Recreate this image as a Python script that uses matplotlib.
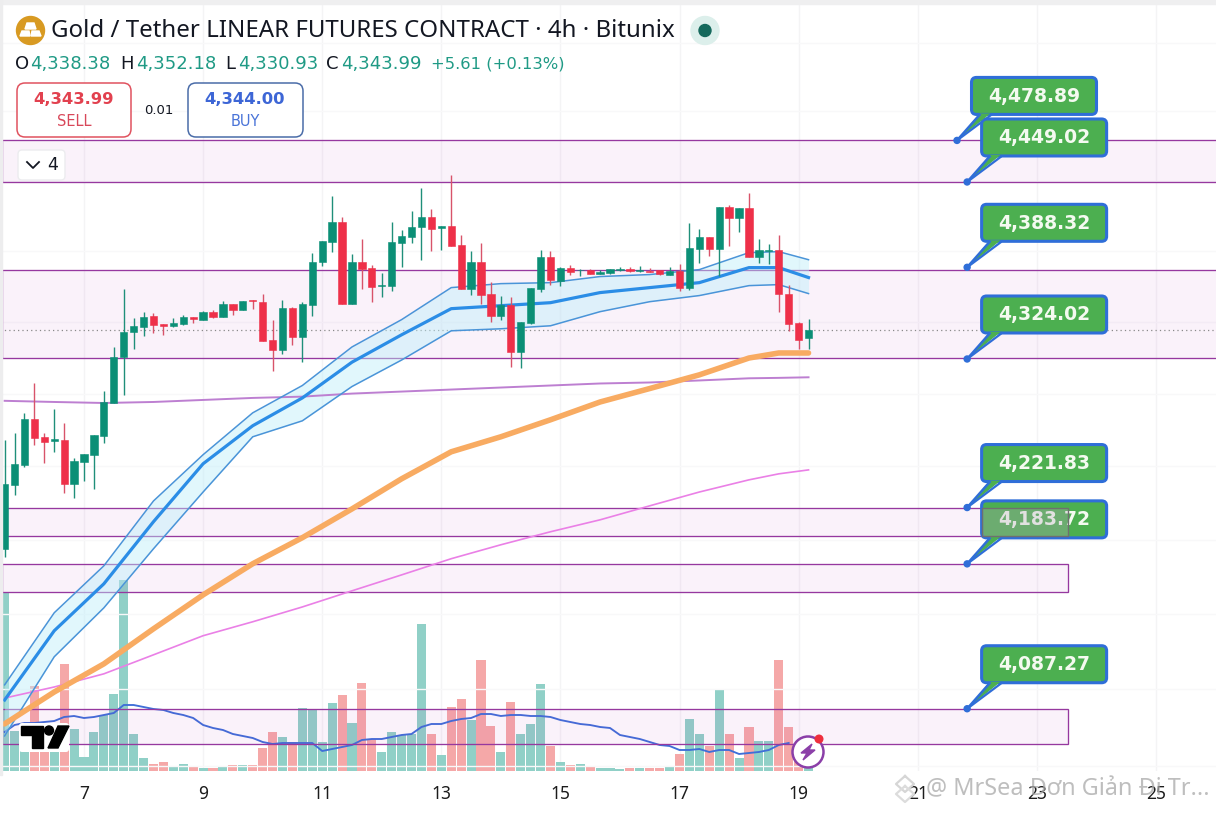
import matplotlib
matplotlib.use("Agg")
import matplotlib.pyplot as plt
from matplotlib.patches import FancyBboxPatch, Circle, Polygon, Rectangle
from matplotlib.ticker import NullLocator, NullFormatter

# ---------- data ----------
first_day = 5 + 4 / 6          # first 4h candle
candle_step = 1 / 6

opens = [4193.8,4237.1,4250.8,4282.6,4270.2,4267.0,4268.1,4237.8,4252.9,4257.7,4270.8,4293.5,4325.4,4343.0,4346.5,4354.3,4348.6,4347.2,4348.6,4353.6,
         4351.5,4357.1,4353.6,4362.7,4358.5,4365.6,4364.1,4337.4,4330.3,4359.9,4339.5,4362.0,4392.3,4406.4,4420.5,4362.7,4392.3,4388.1,4375.4,4375.4,
         4405.7,4410.0,4417.0,4424.1,4416.3,4417.7,4404.3,4373.3,4392.3,4369.8,4354.3,4362.0,4328.9,4349.3,4373.3,4395.9,4379.0,4388.1,4386.2,4386.7,
         4383.9,4384.6,4386.7,4387.4,4386.0,4386.0,4386.7,4383.2,4386.0,4374.0,4401.5,4410.0,4401.5,4431.1,4423.4,4430.4,4395.9,4400.1,4400.8,4369.8,
         4349.3,4338.38]
highs = [4268.1,4272.9,4286.7,4307.0,4272.9,4289.4,4279.8,4255.7,4258.4,4271.6,4302.1,4332.4,4373.3,4352.9,4357.1,4356.4,4348.6,4352.9,4355.0,4353.6,
         4357.8,4358.5,4364.8,4362.7,4364.8,4365.6,4369.8,4351.5,4365.6,4360.6,4364.1,4398.7,4407.1,4438.9,4424.1,4398.0,4408.6,4390.2,4384.6,4420.5,
         4414.9,4428.3,4444.5,4429.7,4417.7,4453.7,4411.4,4400.1,4405.7,4378.2,4368.4,4367.7,4350.0,4374.0,4400.8,4400.1,4388.8,4390.2,4387.4,4387.4,
         4386.7,4387.4,4388.8,4388.8,4389.5,4388.1,4386.7,4388.8,4390.9,4419.8,4415.6,4410.0,4431.1,4432.5,4430.4,4441.0,4408.6,4405.0,4411.4,4376.1,
         4350.0,4352.18]
lows = [4188.3,4230.2,4249.5,4264.6,4252.2,4259.8,4231.6,4228.2,4239.9,4234.4,4266.0,4293.5,4299.3,4331.0,4340.2,4342.3,4340.9,4346.5,4347.9,4349.3,
        4351.5,4352.9,4353.6,4355.0,4358.5,4359.2,4336.6,4315.5,4327.5,4333.8,4321.8,4354.3,4389.5,4399.4,4362.7,4362.7,4373.3,4364.1,4367.7,4371.9,
        4388.8,4405.7,4393.7,4400.1,4400.8,4403.6,4373.3,4369.1,4362.7,4350.0,4351.5,4318.3,4317.6,4348.6,4371.2,4376.1,4375.4,4383.2,4382.5,4383.9,
        4383.9,4383.9,4386.0,4385.3,4385.3,4385.3,4383.2,4383.2,4371.9,4372.6,4391.6,4396.6,4382.5,4403.6,4413.5,4395.9,4391.6,4390.9,4357.1,4343.7,
        4331.0,4330.93]
closes = [4237.8,4251.5,4282.6,4269.5,4266.7,4268.8,4237.8,4253.6,4258.4,4271.6,4294.2,4325.4,4343.0,4347.2,4353.6,4347.9,4347.2,4349.3,4353.6,4352.2,
          4357.1,4353.6,4362.7,4358.5,4364.8,4364.8,4336.6,4330.3,4359.9,4339.5,4362.7,4392.3,4407.1,4420.5,4362.7,4392.3,4387.4,4374.7,4376.1,4406.4,
          4410.7,4417.0,4424.1,4415.6,4417.7,4403.6,4373.3,4392.3,4369.1,4354.3,4362.0,4328.9,4350.0,4374.0,4395.9,4379.7,4388.1,4385.3,4386.7,4383.9,
          4385.3,4387.4,4387.4,4386.0,4386.7,4385.3,4383.9,4386.0,4374.0,4402.2,4410.0,4401.5,4431.1,4423.4,4430.4,4395.9,4400.8,4400.8,4369.8,4348.6,
          4337.4,4343.99]
volumes = [179,40,32,85,30,25,107,42,14,39,56,77,191,37,13,7,9,5,7,5,3,3,5,6,6,6,23,39,34,29,63,62,29,68,76,48,88,32,19,39,
           36,37,147,37,16,64,72,51,111,45,19,69,37,47,87,25,9,6,7,5,3,3,2,3,3,3,3,5,17,52,37,25,81,37,13,44,30,30,111,44,15,3]
volume_ma = [39,46,48,48,49,50,54,55,53,54,56,58,66,66,64,62,61,58,56,53,46,43,41,37,35,33,29,27,28,28,28,28,20,22,24,26,31,32,32,34,
             36,37,44,47,47,50,52,53,57,57,55,56,56,55,55,54,51,49,47,46,44,43,36,34,32,29,26,25,21,21,22,19,21,21,17,18,19,21,26,28]

ma_index = [0,5,10,15,20,25,30,35,40,45,50,55,60,65,70,75,78,81]
channel_mid = [4093.0,4138.9,4170.3,4212.2,4251.7,4277.8,4297.0,4321.8,4340.9,4359.2,4361.3,4363.4,4370.5,4374.0,4377.5,4388.1,4388.1,4381.1]
channel_up = [4103.0,4150.9,4182.4,4226.3,4257.9,4286.7,4305.6,4332.4,4351.5,4374.0,4376.8,4377.5,4381.8,4383.2,4386.7,4398.7,4399.4,4393.7]
channel_low = [4069.4,4121.6,4154.2,4193.9,4232.4,4270.2,4281.2,4304.9,4323.3,4343.7,4345.1,4347.2,4357.1,4364.1,4368.4,4375.4,4376.1,4369.8]
orange_ma = [4077.3,4098.3,4116.9,4140.2,4162.9,4183.8,4201.4,4220.9,4241.4,4259.9,4270.2,4281.9,4294.2,4303.5,4313.0,4324.7,4328.2,4328.2]
purple_ma = [4295.0,4294.2,4293.5,4294.2,4295.6,4297.0,4297.9,4300.0,4301.4,4302.8,4304.2,4305.6,4307.0,4307.7,4309.1,4310.6,4310.9,4311.3]
pink_ma = [4094.3,4101.6,4110.3,4122.9,4135.6,4144.9,4154.8,4165.6,4176.3,4187.2,4196.6,4205.4,4213.5,4223.0,4232.4,4240.7,4244.8,4247.5]

zone_tops = [4478.89, 4386.5, 4221.83, 4183.72, 4087.27]
zone_bottoms = [4449.02, 4325.0, 4202.7, 4164.8, 4064.2]
zone_ends = [None, None, 23.524, 23.524, 23.524]

label_prices = [4478.89, 4449.02, 4388.32, 4324.02, 4221.83, 4183.72, 4087.27]
label_days = [21.66, 21.83, 21.83, 21.83, 21.83, 21.83, 21.83]
last_price = 4343.99
day_ticks = [7, 9, 11, 13, 15, 17, 19, 21, 23, 25]
grid_prices = [4050, 4100, 4150, 4200, 4250, 4300, 4350, 4400, 4450, 4500, 4550]

TITLE = "Gold / Tether LINEAR FUTURES CONTRACT \u00b7 4h \u00b7 Bitunix"
ohlc_labels = [("O", 15, "4,338.38", 30), ("H", 120, "4,352.18", 136), ("L", 225, "4,330.93", 238), ("C", 326, "4,343.99", 341)]
change_text = "+5.61 (+0.13%)"
sell_price, buy_price, spread = "4,343.99", "4,344.00", "0.01"
WATERMARK = "@ MrSea \u0110\u01a1n Gi\u1ea3n \u0110i Tr..."

UP, DOWN = "#0b8f76", "#ee3049"
VOL_UP, VOL_DOWN = "#90d0c7", "#f5a8a8"
W, H, AX_B = 1216, 813, 771

# ---------- figure ----------
fig = plt.figure(figsize=(W / 100, H / 100), dpi=100, facecolor="white")
rect = [0, (H - AX_B) / H, 1, AX_B / H]
ax_vol = fig.add_axes(rect, zorder=1)
ax = fig.add_axes(rect, zorder=2)
ui = fig.add_axes([0, 0, 1, 1], zorder=3)
ui.set_xlim(0, W); ui.set_ylim(H, 0); ui.axis("off"); ui.patch.set_alpha(0)
ax.patch.set_alpha(0)

XLIM = (7 - 84 / 59.55, 7 + (W - 84) / 59.55)
for a in (ax, ax_vol):
    a.set_xlim(*XLIM)
    for s in a.spines.values():
        s.set_visible(False)
ax_vol.set_ylim(0, AX_B)
ax_vol.set_xticks([]); ax_vol.set_yticks([])
ax.set_yscale("log")
ax.set_ylim(4046.5, 4581.3)
ax.yaxis.set_major_locator(NullLocator()); ax.yaxis.set_minor_locator(NullLocator())
ax.yaxis.set_major_formatter(NullFormatter()); ax.yaxis.set_minor_formatter(NullFormatter())
ax.set_xticks(day_ticks)
ax.set_xticklabels([str(d) for d in day_ticks], family="Noto Sans", fontsize=12.5, color="#1c1c1c")
ax.tick_params(axis="x", length=0, pad=10)

for d in day_ticks:
    ax_vol.axvline(d, color="#f4f4f5", lw=1, zorder=0)
for g in grid_prices:
    ax.axhline(g, color="#f8f8f9", lw=1, zorder=0)

days = [first_day + i * candle_step for i in range(len(opens))]
ma_days = [first_day + i * candle_step for i in ma_index]

# volume
vol_cols = [VOL_UP if c >= o else VOL_DOWN for o, c in zip(opens, closes)]
ax_vol.bar(days, volumes, width=0.152, color=vol_cols, zorder=1)
ax_vol.plot(days[:len(volume_ma)], volume_ma, color="#3f6fd8", lw=1.35, zorder=6)

# zones
for top, bot, end in zip(zone_tops, zone_bottoms, zone_ends):
    x0 = XLIM[0] + 0.03
    x1 = end if end else XLIM[1] + 1
    ax.add_patch(Rectangle((x0, bot), x1 - x0, top - bot, facecolor=(0.70, 0.15, 0.72, 0.06), edgecolor="none", zorder=1))
    ax.add_patch(Rectangle((x0, bot), x1 - x0, top - bot, facecolor="none", edgecolor="#96389f", lw=0.95, zorder=1.5))

# moving averages
ax.fill_between(ma_days, channel_low, channel_up, color="#bdeefa", alpha=0.45, lw=0, zorder=2)
ax.plot(ma_days, purple_ma, color="#bd7fd1", lw=1.4, zorder=2.2, solid_joinstyle="round")
ax.plot(ma_days, pink_ma, color="#ea80e6", lw=1.2, zorder=2.2, solid_joinstyle="round")
ax.plot(ma_days, channel_up, color="#4a94d8", lw=1.1, zorder=2.4, solid_joinstyle="round")
ax.plot(ma_days, channel_low, color="#4a94d8", lw=1.1, zorder=2.4, solid_joinstyle="round")
ax.plot(ma_days, channel_mid, color="#2b8de6", lw=2.3, zorder=2.5, solid_joinstyle="round")
ax.plot(ma_days, orange_ma, color="#f8ab62", lw=4.0, zorder=2.6, solid_capstyle="round", solid_joinstyle="round")

# last price line
ax.axhline(last_price, color="#8a8a8a", lw=0.9, ls=(0, (1, 2.5)), zorder=1.7)

# candles
for d, o, h, l, c in zip(days, opens, highs, lows, closes):
    col = UP if c >= o else DOWN
    wick = "#d8536a" if c < o else "#1f8f7a"
    ax.plot([d, d], [l, h], color=wick, lw=1.0, zorder=3, solid_capstyle="butt")
    ax.bar(d, abs(c - o), bottom=min(o, c), width=0.122, color=col, edgecolor=col, lw=0.4, zorder=3.2)

# ---------- callouts ----------
fig.canvas.draw()
def to_ui(day, price):
    return ui.transData.inverted().transform(ax.transData.transform((day, price)))

BLUE = "#2f6ed8"
GREEN = "#4caf50"
for day, price in zip(label_days, label_prices):
    px, py = to_ui(day, price)
    left = px + 14.5
    top = py - 63
    w, h = 125, 37
    ui.add_patch(FancyBboxPatch((left, top), w, h, boxstyle="round,pad=0,rounding_size=5",
                                facecolor=GREEN, edgecolor=BLUE, lw=2.2, zorder=5))
    bx = top + h
    ui.add_patch(Polygon([(px, py), (left + 8, bx - 1), (left + 19, bx - 1)], closed=True, facecolor=GREEN, edgecolor="none", zorder=5.1))
    ui.plot([px, left + 8], [py, bx + 0.5], color=BLUE, lw=1.8, zorder=5.2)
    ui.plot([px, left + 19], [py, bx + 1], color=BLUE, lw=1.6, zorder=5.2)
    ui.add_patch(Circle((px, py), 3, color=BLUE, zorder=5.3))
    ui.text(left + w / 2, top + h / 2 + 0.5, f"{price:,.2f}", color="#f4faf0", fontsize=13.5, fontweight="bold",
            ha="center", va="center", zorder=5.4)
# zone border crossing the 4,183.72 callout
zx0, zy0 = to_ui(21.7, zone_tops[2]); zx1, zy1 = to_ui(zone_ends[2], zone_bottoms[2])
ui.add_patch(Rectangle((982, zy0), zx1 - 982, zy1 - zy0, facecolor=(0.72, 0.66, 0.74, 0.3),
                       edgecolor="#6f6f6f", lw=1.0, zorder=6))

# ---------- header ----------
ui.add_patch(Rectangle((0, 0), W, 4, color="#efeff0", zorder=4))
ui.add_patch(Rectangle((0, 0), 2, AX_B + 4, color="#ededee", zorder=4))
ui.add_patch(Circle((30.5, 30.5), 14, color="#d89a22", zorder=5))
ui.add_patch(Polygon([(27, 23), (34, 23), (36, 29), (25, 29)], color="white", zorder=6))
ui.add_patch(Polygon([(22, 31), (29, 31), (30, 36), (20, 36)], color="white", zorder=6))
ui.add_patch(Polygon([(32, 31), (39, 31), (41, 36), (31, 36)], color="white", zorder=6))
ui.text(51, 31, TITLE, family="Noto Sans", fontsize=17.3, color="#131722", va="center", ha="left", zorder=6)
ui.add_patch(Circle((705, 30.5), 14, color="#dcefeb", zorder=5))
ui.add_patch(Circle((705, 30.5), 6, color="#14695c", zorder=6))

for letter, lx, num, nx in ohlc_labels:
    ui.text(lx, 64, letter, fontsize=13, color="#131722", va="center", ha="left", zorder=6)
    ui.text(nx, 64, num, fontsize=13, color="#1f9a85", va="center", ha="left", zorder=6)
ui.text(431, 64, change_text, fontsize=11.75, color="#1f9a85", va="center", ha="left", zorder=6)

ui.add_patch(FancyBboxPatch((17, 83), 114, 54, boxstyle="round,pad=0,rounding_size=8", facecolor="white", edgecolor="#e0525f", lw=1.1, zorder=5))
ui.text(74, 99, sell_price, fontsize=11.8, fontweight="bold", color="#e2414f", ha="center", va="center", zorder=6)
ui.text(74, 121, "SELL", fontsize=10.5, color="#d8485a", ha="center", va="center", zorder=6)
ui.text(159, 110, spread, fontsize=9.5, color="#131722", ha="center", va="center", zorder=6)
ui.add_patch(FancyBboxPatch((188, 83), 115, 54, boxstyle="round,pad=0,rounding_size=8", facecolor="white", edgecolor="#4a6ca8", lw=1.1, zorder=5))
ui.text(245, 99, buy_price, fontsize=11.8, fontweight="bold", color="#3d66d6", ha="center", va="center", zorder=6)
ui.text(245, 121, "BUY", fontsize=10.5, color="#4a74d8", ha="center", va="center", zorder=6)

ui.add_patch(FancyBboxPatch((18, 150), 47, 30, boxstyle="round,pad=0,rounding_size=4", facecolor="white", edgecolor="#ececef", lw=1, zorder=5))
ui.plot([27, 33, 39], [162, 168, 162], color="#131722", lw=1.3, zorder=6)
ui.text(53, 165, "4", fontsize=12.5, color="#131722", ha="center", va="center", zorder=6)

# ---------- overlays ----------
ui.add_patch(FancyBboxPatch((19, 723), 50, 29, boxstyle="round,pad=0,rounding_size=3", facecolor="white", edgecolor="none", zorder=5))
ui.add_patch(Polygon([(21, 726), (43, 726), (43, 748), (32, 748), (32, 735), (21, 735)], color="black", zorder=6))
ui.add_patch(Circle((49, 730.5), 4.5, color="black", zorder=6))
ui.add_patch(Polygon([(58, 726), (69, 726), (58, 748), (48, 748)], color="black", zorder=6))

ui.add_patch(Circle((808, 752), 15.5, facecolor="white", edgecolor="#8b3fa8", lw=1.8, zorder=6))
ui.add_patch(Polygon([(812, 744), (801, 753), (807, 753), (803, 760), (815, 750), (809, 750)], color="#8b3fa8", zorder=7))
ui.add_patch(Circle((819, 739), 3.8, color="#ee2f3d", zorder=8))

# watermark
ui.plot([905, 914, 905, 896, 905], [776, 784, 792, 784, 776], color="#d6d6d6", lw=1.6, zorder=7)
ui.plot([905, 914, 905, 896, 905], [786, 794, 802, 794, 786], color="#dcdcdc", lw=1.6, zorder=7)
ui.text(926, 789, WATERMARK, family="Noto Sans", fontsize=16.9, color="#a8a8a8", alpha=0.75, va="center", ha="left", zorder=7)

fig.savefig("out.png", dpi=100)
